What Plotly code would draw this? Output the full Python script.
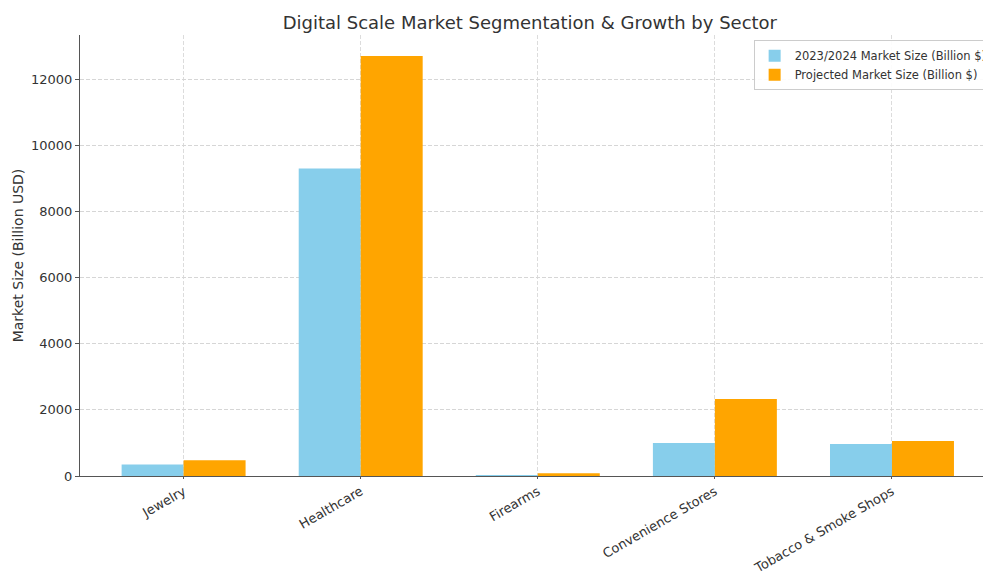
import plotly.graph_objects as go

categories = ["Jewelry", "Healthcare", "Firearms", "Convenience Stores", "Tobacco & Smoke Shops"]
current_size = [350, 9300, 30, 1000, 970]
projected_size = [480, 12700, 80, 2330, 1060]
series_names = ["2023/2024 Market Size (Billion $)", "Projected Market Size (Billion $)"]
y_ticks = [0, 2000, 4000, 6000, 8000, 10000, 12000]
y_tick_labels = ["0", "2000", "4000", "6000", "8000", "10000", "12000"]

font = "DejaVu Sans"

fig = go.Figure()
fig.add_trace(go.Bar(x=categories, y=current_size, name=series_names[0],
                     marker=dict(color="#87CEEB", line=dict(width=0))))
fig.add_trace(go.Bar(x=categories, y=projected_size, name=series_names[1],
                     marker=dict(color="#FFA500", line=dict(width=0))))

fig.update_layout(
    width=983, height=574,
    barmode="group", bargap=0.3, bargroupgap=0,
    paper_bgcolor="white", plot_bgcolor="white",
    margin=dict(l=80, r=0, t=35, b=98, autoexpand=False),
    font=dict(family=font, color="#333333", size=13),
    title=dict(text="Digital Scale Market Segmentation & Growth by Sector",
               x=0.539, xanchor="center", y=0.961, yanchor="middle",
               font=dict(size=18, family=font, color="#333333")),
    legend=dict(x=0.746, xanchor="left", y=0.988, yanchor="top",
                bgcolor="rgba(255,255,255,0.9)", bordercolor="#cccccc", borderwidth=1,
                font=dict(size=11.5, family=font, color="#333333"),
                tracegroupgap=0, itemwidth=30),
    xaxis=dict(range=[-0.585, 4.514], showgrid=True, gridcolor="#dcdcdc",
               griddash="4px,2px", gridwidth=0.8, tickangle=-30,
               showline=True, linecolor="#555555", linewidth=1.2,
               ticks="outside", ticklen=2, tickcolor="#555555",
               tickfont=dict(size=13, family=font, color="#333333")),
    yaxis=dict(range=[0, 13335], tickvals=y_ticks, ticktext=y_tick_labels,
               showgrid=True, gridcolor="#d6d6d6",
               griddash="4px,2px", gridwidth=0.8, zeroline=False,
               showline=True, linecolor="#555555", linewidth=1.2,
               ticks="outside", ticklen=4, tickcolor="#555555",
               tickfont=dict(size=13, family=font, color="#333333"),
               title=dict(text="Market Size (Billion USD)", standoff=4,
                          font=dict(size=14, family=font, color="#333333"))),
)

fig.write_html("out.html", config={"displayModeBar": False},
               post_script="document.body.style.margin='0';document.body.style.overflow='hidden';")
